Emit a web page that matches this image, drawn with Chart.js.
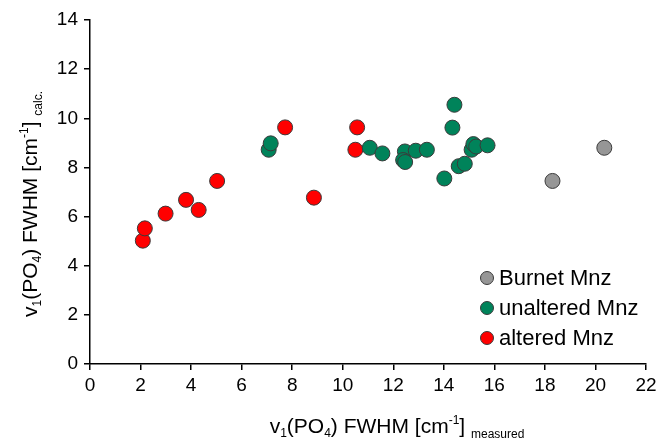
<!DOCTYPE html>
<html>
<head>
<meta charset="utf-8">
<script src="https://cdn.jsdelivr.net/npm/chart.js@4"></script>
<style>
html,body{margin:0;padding:0;background:#fff;}
#wrap{width:663px;height:445px;position:relative;}
</style>
</head>
<body>
<div id="wrap"><canvas id="c"></canvas></div>
<script>
// ---- data ----
const seriesNames = ["Burnet Mnz", "unaltered Mnz", "altered Mnz"];
const burnetX = [18.3, 20.35];
const burnetY = [7.45, 8.8];
const unalteredX = [7.07, 7.15, 11.07, 11.57, 12.46, 12.39, 12.47, 12.89, 13.33, 14.02, 14.34, 14.42, 14.59, 14.83, 15.1, 15.17, 15.28, 15.73];
const unalteredY = [8.72, 8.98, 8.8, 8.57, 8.65, 8.3, 8.22, 8.68, 8.72, 7.55, 9.62, 10.55, 8.05, 8.15, 8.72, 8.95, 8.85, 8.9];
const alteredX = [2.09, 2.17, 2.99, 3.8, 4.3, 5.03, 7.72, 8.86, 10.5, 10.57];
const alteredY = [5.02, 5.52, 6.12, 6.68, 6.27, 7.45, 9.63, 6.77, 8.72, 9.63];
const xTicks = [0,2,4,6,8,10,12,14,16,18,20,22];
const yTicks = [0,2,4,6,8,10,12,14];

const FONT = '"Liberation Sans", Arial, sans-serif';
const colors = ["#969696", "#00835A", "#FF0000"];

function pts(xs, ys){ return xs.map((x,i)=>({x:x,y:ys[i]})); }
const dataSets = [pts(burnetX,burnetY), pts(unalteredX,unalteredY), pts(alteredX,alteredY)];

function richText(ctx, segs, x, y, align){
  let total = 0;
  segs.forEach(s=>{ ctx.font = s.size+'px '+FONT; s.w = ctx.measureText(s.t).width; total += s.w; });
  let cx = align==='center' ? x - total/2 : x;
  segs.forEach(s=>{
    ctx.font = s.size+'px '+FONT;
    ctx.fillText(s.t, cx, y + (s.dy||0));
    cx += s.w;
  });
}
function titleSegs(last){
  return [
    {t:'v',size:21},{t:'1',size:12,dy:4},{t:'(PO',size:21},{t:'4',size:12,dy:4},
    {t:') FWHM [cm',size:21},{t:'-1',size:12,dy:-9},{t:'] ',size:21},{t:last,size:12,dy:5}
  ];
}

const deco = {
  id:'deco',
  afterDraw(chart){
    const ctx = chart.ctx;
    ctx.save();
    ctx.fillStyle = '#000';
    ctx.textBaseline = 'alphabetic';
    // x title
    richText(ctx, titleSegs('measured'), 397, 433, 'center');
    // y title
    ctx.save();
    ctx.translate(37, 204);
    ctx.rotate(-Math.PI/2);
    richText(ctx, titleSegs('calc.'), 0, 0, 'center');
    ctx.restore();
    // legend
    const lx = 487, ly = [278, 308, 338];
    seriesNames.forEach((n,i)=>{
      ctx.beginPath();
      ctx.arc(lx, ly[i], 6.5, 0, Math.PI*2);
      ctx.fillStyle = colors[i];
      ctx.fill();
      ctx.lineWidth = 1;
      ctx.strokeStyle = '#3a3a3a';
      ctx.stroke();
      ctx.fillStyle = '#000';
      ctx.font = '22px '+FONT;
      ctx.textBaseline = 'middle';
      ctx.fillText(n, 499, ly[i]+1);
    });
    ctx.restore();
  }
};

new Chart(document.getElementById('c'), {
  type:'scatter',
  data:{
    datasets: seriesNames.map((n,i)=>({
      label:n,
      data:dataSets[i],
      backgroundColor:colors[i],
      borderColor:'#3a3a3a',
      borderWidth:1,
      pointRadius:7.5,
      pointHoverRadius:7.5
    }))
  },
  options:{
    responsive:true,
    maintainAspectRatio:false,
    animation:false,
    layout:{padding:{left:0,top:20,right:17,bottom:0}},
    plugins:{legend:{display:false},tooltip:{enabled:false}},
    scales:{
      x:{
        type:'linear', min:0, max:22,
        afterBuildTicks(s){ s.ticks = xTicks.map(v=>({value:v})); },
        afterFit(s){ s.height = 81; },
        grid:{display:true, drawOnChartArea:false, drawTicks:true, tickLength:6, color:'#000', lineWidth:1.5},
        border:{display:true, color:'#000', width:1.5},
        ticks:{color:'#000', font:{family:FONT,size:19}, padding:4, maxRotation:0}
      },
      y:{
        type:'linear', min:0, max:14,
        afterBuildTicks(s){ s.ticks = yTicks.map(v=>({value:v})); },
        afterFit(s){ s.width = 90; },
        grid:{display:true, drawOnChartArea:false, drawTicks:true, tickLength:6, color:'#000', lineWidth:1.5},
        border:{display:true, color:'#000', width:1.5},
        ticks:{color:'#000', font:{family:FONT,size:19}, padding:6}
      }
    }
  },
  plugins:[deco]
});
</script>
</body>
</html>
